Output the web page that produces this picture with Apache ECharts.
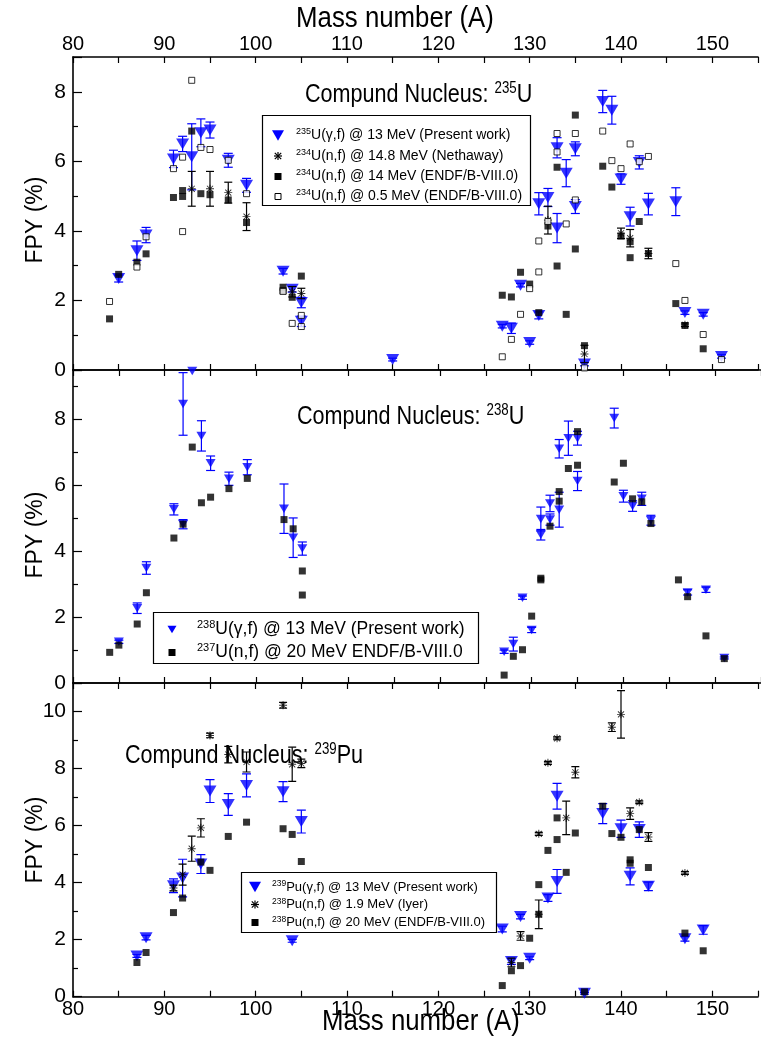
<!DOCTYPE html>
<html><head><meta charset="utf-8">
<script src="https://cdn.jsdelivr.net/npm/echarts@6/dist/echarts.min.js"></script>
<style>html,body{margin:0;padding:0;background:#fff}#c{width:761px;height:1041px}</style>
</head><body><div id="c"></div>
<script>
// ---------------- DATA ----------------
const xTickLabels = [80, 90, 100, 110, 120, 130, 140, 150];
const yMaxTop = 9, yMaxMid = 9.5, yMaxBot = 11;

// Panel 1: Compound nucleus 235U  [A, FPY, err]
const u235Gamma = [[85,2.63,0.10],[87,3.43,0.28],[88,3.88,0.22],[91,6.07,0.25],[92,6.50,0.22],[93,6.13,0.95],[94,6.82,0.40],[95,6.90,0.23],[97,6.03,0.20],[99,5.31,0.20],[103,2.84,0.08],[104,2.32,0.08],[105,1.94,0.15],[105,1.40,0.15],[115,0.30,0.04],[127,1.26,0.05],[128,1.20,0.15],[129,2.44,0.05],[130,0.79,0.05],[131,4.78,0.32],[131,1.57,0.10],[132,4.96,0.26],[133,6.39,0.29],[133,4.08,0.42],[134,5.66,0.39],[135,6.36,0.20],[135,4.70,0.20],[136,0.17,0.05],[138,7.72,0.32],[139,7.47,0.40],[140,5.49,0.15],[141,4.41,0.27],[142,5.97,0.19],[143,4.77,0.31],[146,4.84,0.40],[147,1.65,0.05],[149,1.60,0.05],[151,0.39,0.05]];
const u234Nethaway = [[93,5.21,0.50],[95,5.21,0.50],[97,5.10,0.30],[99,4.41,0.40],[104,2.25,0.15],[105,2.20,0.15],[132,4.31,0.40],[136,0.46,0.25],[140,3.93,0.15],[141,3.79,0.25],[143,3.35,0.15],[147,1.30,0.05]];
const u234N14 = [[84,1.47],[85,2.75],[87,3.10],[88,3.34],[91,4.96],[92,5.16],[92,4.99],[93,6.87],[94,5.07],[95,5.04],[97,4.89],[99,4.24],[103,2.38],[103,2.28],[104,2.09],[105,2.70],[127,2.15],[128,2.10],[129,2.81],[130,2.47],[131,1.65],[132,4.14],[133,5.83],[133,2.99],[134,1.60],[135,7.33],[135,3.48],[136,0.70],[138,5.86],[139,5.26],[140,3.85],[141,3.69],[141,3.23],[142,4.27],[143,3.35],[146,1.91],[147,1.28],[149,0.61]];
const u234N05 = [[84,1.97],[87,2.96],[88,3.83],[91,5.79],[92,6.12],[92,3.98],[93,8.33],[94,6.40],[95,6.34],[97,6.03],[99,5.07],[103,2.26],[104,1.34],[105,1.57],[105,1.25],[127,0.38],[128,0.88],[129,1.60],[130,2.34],[131,3.71],[131,2.82],[132,4.27],[133,6.80],[133,6.27],[134,4.20],[135,6.80],[135,4.89],[136,0.06],[138,6.87],[139,6.02],[140,5.79],[141,6.50],[142,5.99],[143,6.14],[146,3.06],[147,2.00],[149,1.02],[151,0.30]];

// Panel 2: Compound nucleus 238U
const u238Gamma = [[85,1.25,0.05],[87,2.27,0.16],[88,3.49,0.19],[91,5.27,0.17],[92,8.47,0.95],[92,4.82,0.14],[93,9.47,0.0],[94,7.50,0.46],[95,6.67,0.22],[97,6.20,0.20],[99,6.55,0.23],[103,5.29,0.75],[104,4.41,0.60],[105,4.08,0.20],[127,0.95,0.05],[128,1.18,0.21],[129,2.59,0.05],[130,1.61,0.08],[131,4.98,0.36],[131,4.50,0.16],[132,5.45,0.25],[132,4.96,0.17],[133,7.11,0.28],[133,5.26,0.53],[134,7.43,0.52],[135,7.43,0.21],[135,6.13,0.29],[139,8.04,0.30],[140,5.67,0.18],[141,5.37,0.16],[142,5.59,0.20],[143,4.94,0.15],[147,2.75,0.08],[149,2.83,0.08],[151,0.76,0.03]];
const u237N20 = [[84,0.93],[85,1.15],[87,1.79],[88,2.74],[91,4.40],[92,4.82],[93,7.16],[94,5.47],[95,5.64],[97,5.90],[99,6.21],[103,4.96],[104,4.68],[105,3.40],[105,2.67],[127,0.24],[128,0.81],[129,1.01],[130,2.03],[131,3.18],[131,3.13],[132,4.76],[133,5.81],[133,5.52],[134,6.51],[135,7.63],[135,6.61],[139,6.10],[140,6.67],[141,5.59],[142,5.50],[143,4.84],[146,3.13],[147,2.62],[149,1.43],[151,0.74]];

// Panel 3: Compound nucleus 239Pu
const pu239Gamma = [[87,1.43,0.05],[88,2.07,0.08],[91,3.89,0.24],[92,4.16,0.66],[94,4.65,0.33],[95,7.21,0.40],[97,6.74,0.38],[99,7.41,0.40],[103,7.19,0.35],[104,1.96,0.05],[105,6.14,0.40],[127,2.37,0.10],[128,1.23,0.10],[129,2.81,0.08],[130,1.35,0.05],[132,3.46,0.12],[133,7.03,0.45],[133,4.04,0.42],[136,0.12,0.03],[138,6.42,0.35],[140,5.89,0.30],[141,4.22,0.30],[142,5.86,0.27],[143,3.87,0.15],[147,2.03,0.08],[149,2.34,0.15]];
const pu238Iyer = [[91,3.81,0.10],[92,4.28,0.37],[93,5.19,0.44],[94,5.92,0.32],[95,9.16,0.08],[97,8.49,0.29],[99,8.23,0.35],[103,10.22,0.10],[104,8.15,0.60],[105,8.18,0.15],[128,1.20,0.15],[129,2.13,0.15],[131,5.71,0.05],[131,2.89,0.50],[132,8.20,0.05],[133,9.06,0.05],[134,6.27,0.59],[135,7.87,0.20],[139,9.45,0.15],[140,9.90,0.83],[141,6.42,0.20],[142,6.82,0.05],[143,5.60,0.15],[147,4.34,0.05]];
const pu238N20 = [[87,1.20],[88,1.55],[91,2.95],[92,3.46],[94,4.72],[95,4.43],[97,5.62],[99,6.12],[103,5.89],[104,5.69],[105,4.74],[127,0.39],[128,0.91],[129,1.09],[130,2.05],[131,3.93],[131,2.89],[132,5.13],[133,6.27],[133,5.51],[134,4.36],[135,5.74],[136,0.17],[138,6.68],[139,5.72],[140,5.59],[141,4.80],[141,4.68],[142,5.86],[143,4.53],[147,2.23],[149,1.61]];

// legend / series names
const legendTop = ['235U(γ,f) @ 13 MeV (Present work)', '234U(n,f) @ 14.8 MeV (Nethaway)', '234U(n,f) @ 14 MeV (ENDF/B-VIII.0)', '234U(n,f) @ 0.5 MeV (ENDF/B-VIII.0)'];
const legendMid = ['238U(γ,f) @ 13 MeV (Present work)', '237U(n,f) @ 20 MeV ENDF/B-VIII.0'];
const legendBot = ['239Pu(γ,f) @ 13 MeV (Present work)', '238Pu(n,f) @ 1.9 MeV (Iyer)', '238Pu(n,f) @ 20 MeV (ENDF/B-VIII.0)'];
const panelTitles = [['Compund Nucleus: ', '235', 'U'], ['Compund Nucleus: ', '238', 'U'], ['Compund Nucleus: ', '239', 'Pu']];
const xTitle = 'Mass number (A)';
const yTitle = 'FPY (%)';

// ---------------- STYLE ----------------
const REG = "'Liberation Sans',Arial,sans-serif";
const BLUE = '#0000ff';
const TRI = 'path://M0,0L10,0L5,8.66Z';
const STAR = 'path://M4.4,0L5.6,0L5.6,10L4.4,10ZM0,4.4L10,4.4L10,5.6L0,5.6ZM0.8,1.6L1.6,0.8L9.2,8.4L8.4,9.2ZM8.4,0.8L9.2,1.6L1.6,9.2L0.8,8.4Z';

const GL = 73, GW = 697;
const grids = [
  {left: GL, width: GW, top: 57, height: 313},
  {left: GL, width: GW, top: 370, height: 313},
  {left: GL, width: GW, top: 683, height: 313.7}
];
const yMax = [yMaxTop, yMaxMid, yMaxBot];

const xAxes = [], yAxes = [];
grids.forEach((g, i) => {
  ['bottom', 'top'].forEach(pos => {
    const showLab = (pos === 'bottom' && i === 2) || (pos === 'top' && i === 0);
    xAxes.push({
      gridIndex: i, type: 'value', position: pos, min: 80, max: 155, interval: 5,
      axisLine: {show: true, onZero: false, lineStyle: {color: '#000', width: 1.6}},
      axisTick: {show: true, inside: true, length: 6, lineStyle: {color: '#000', width: 1.2}},
      axisLabel: {show: showLab, color: '#000', fontFamily: REG, fontSize: 20, margin: 3,
        formatter: v => xTickLabels.includes(v) ? String(v) : ''},
      splitLine: {show: false}
    });
  });
  yAxes.push({
    gridIndex: i, type: 'value', min: 0, max: yMax[i], interval: 2,
    axisLine: {show: true, onZero: false, lineStyle: {color: '#000', width: 1.6}},
    axisTick: {show: true, inside: true, length: 9, lineStyle: {color: '#000', width: 1.2}},
    minorTick: {show: true, splitNumber: 2, length: 5, lineStyle: {color: '#000', width: 1.2}},
    axisLabel: {color: '#000', fontFamily: REG, fontSize: 21, margin: 7,
      formatter: v => (Math.abs(v % 2) < 1e-9) ? String(v) : ''},
    splitLine: {show: false}
  });
});

function pts(d) { return d.map(r => [r[0], r[1]]); }
function errBars(d, g, color, capHalf, z) {
  return {
    type: 'custom', xAxisIndex: g * 2, yAxisIndex: g, clip: true, z: z, silent: true,
    data: d.filter(r => r[2] > 0), encode: {x: 0, y: 1},
    renderItem: (params, api) => {
      const x = api.value(0), y = api.value(1), e = api.value(2);
      const a = api.coord([x, y + e]), b = api.coord([x, y - e]);
      const st = {stroke: color, lineWidth: 1.2};
      return {type: 'group', children: [
        {type: 'line', shape: {x1: a[0], y1: a[1], x2: b[0], y2: b[1]}, style: st},
        {type: 'line', shape: {x1: a[0] - capHalf, y1: a[1], x2: a[0] + capHalf, y2: a[1]}, style: st},
        {type: 'line', shape: {x1: b[0] - capHalf, y1: b[1], x2: b[0] + capHalf, y2: b[1]}, style: st}
      ]};
    }
  };
}
function scat(name, d, g, symbol, size, style, z) {
  return {type: 'scatter', name: name, xAxisIndex: g * 2, yAxisIndex: g, data: pts(d),
    symbol: symbol, symbolSize: size, itemStyle: style, z: z, silent: true};
}
const sFilled = {color: '#000'};
const sOpen = {color: '#fff', borderColor: '#000', borderWidth: 1};
const sBlue = {color: BLUE};
const sStar = {color: '#000'};

const series = [
  errBars(u235Gamma, 0, BLUE, 4.5, 2),
  scat(legendTop[0], u235Gamma, 0, TRI, [13, 11], sBlue, 3),
  errBars(u234Nethaway, 0, '#000', 4, 4),
  scat(legendTop[1], u234Nethaway, 0, STAR, 8, sStar, 5),
  scat(legendTop[2], u234N14, 0, 'rect', 7, sFilled, 6),
  scat(legendTop[3], u234N05, 0, 'rect', 6, sOpen, 7),
  errBars(u238Gamma, 1, BLUE, 4.5, 2),
  scat(legendMid[0], u238Gamma, 1, TRI, [10, 8.5], sBlue, 3),
  scat(legendMid[1], u237N20, 1, 'rect', 7, sFilled, 6),
  errBars(pu239Gamma, 2, BLUE, 4.5, 2),
  scat(legendBot[0], pu239Gamma, 2, TRI, [13, 11], sBlue, 3),
  errBars(pu238Iyer, 2, '#000', 4, 4),
  scat(legendBot[1], pu238Iyer, 2, STAR, 8, sStar, 5),
  scat(legendBot[2], pu238N20, 2, 'rect', 7, sFilled, 6)
];

// --------- legends / titles drawn as graphic ----------
function richName(name) { return name.replace(/^(\d+)(.*)$/, '{s|$1}{t|$2}'); }
function icon(kind, cx, cy, sz) {
  if (kind === 'tri') return [{type: 'polygon', z: 101, shape: {points: [[cx - sz / 2, cy - sz * 0.43], [cx + sz / 2, cy - sz * 0.43], [cx, cy + sz * 0.43]]}, style: {fill: BLUE}}];
  if (kind === 'star') {
    const h = sz / 2, d = h * 0.8, st = {stroke: '#000', lineWidth: 1.2};
    return [
      {type: 'line', z: 101, shape: {x1: cx, y1: cy - h, x2: cx, y2: cy + h}, style: st},
      {type: 'line', z: 101, shape: {x1: cx - h, y1: cy, x2: cx + h, y2: cy}, style: st},
      {type: 'line', z: 101, shape: {x1: cx - d, y1: cy - d, x2: cx + d, y2: cy + d}, style: st},
      {type: 'line', z: 101, shape: {x1: cx + d, y1: cy - d, x2: cx - d, y2: cy + d}, style: st}
    ];
  }
  if (kind === 'fill') return [{type: 'rect', z: 101, shape: {x: cx - sz / 2, y: cy - sz / 2, width: sz, height: sz}, style: {fill: '#000'}}];
  return [{type: 'rect', z: 101, shape: {x: cx - sz / 2 + 0.5, y: cy - sz / 2 + 0.5, width: sz - 1, height: sz - 1}, style: {fill: '#fff', stroke: '#000', lineWidth: 1}}];
}
function legendBox(box, rows, iconX, textX, fs, sfs, kinds, sizes) {
  let els = [{type: 'rect', shape: {x: box[0] + 0.5, y: box[1] + 0.5, width: box[2], height: box[3]}, style: {fill: '#fff', stroke: '#000', lineWidth: 1.2}, z: 100}];
  rows.forEach((r, i) => {
    els = els.concat(icon(kinds[i], iconX, r[1], sizes[i]));
    els.push({type: 'text', x: textX, y: r[1], z: 101, style: {
      text: richName(r[0]), verticalAlign: 'middle', align: 'left',
      rich: {
        t: {fontFamily: REG, fontSize: fs, fill: '#000', lineHeight: fs + 2},
        s: {fontFamily: REG, fontSize: sfs, fill: '#000', lineHeight: sfs, verticalAlign: 'top'}
      }}});
  });
  return els;
}
function titleText(parts, x, y) {
  return {type: 'text', x: x, y: y, z: 100, scaleX: 0.83, style: {
    text: '{t|' + parts[0] + '}{s|' + parts[1] + '}{t|' + parts[2] + '}', verticalAlign: 'middle',
    rich: {
      t: {fontFamily: REG, fontSize: 26, fill: '#000', lineHeight: 28},
      s: {fontFamily: REG, fontSize: 16, fill: '#000', lineHeight: 14, verticalAlign: 'top'}
    }}};
}
function yName(y) {
  return {type: 'text', x: 36, y: y, rotation: Math.PI / 2, z: 100,
    style: {text: yTitle, align: 'center', verticalAlign: 'middle', fontFamily: REG, fontSize: 23, fill: '#000'}};
}

const graphic = [].concat(
  legendBox([262, 115, 268, 90], [[legendTop[0], 135.5], [legendTop[1], 156], [legendTop[2], 176.5], [legendTop[3], 196.5]], 278, 296, 14, 9, ['tri', 'star', 'fill', 'open'], [12, 8, 7, 7]),
  legendBox([153, 612, 325, 51], [[legendMid[0], 629.5], [legendMid[1], 652.5]], 172, 197, 17.5, 11, ['tri', 'fill'], [9, 7]),
  legendBox([241, 872, 255, 60], [[legendBot[0], 887], [legendBot[1], 904.5], [legendBot[2], 922.5]], 255, 272, 13, 8.5, ['tri', 'star', 'fill'], [12, 8, 7]),
  [
    titleText(panelTitles[0], 305, 95),
    titleText(panelTitles[1], 297, 417),
    titleText(panelTitles[2], 125, 756),
    yName(220), yName(535), yName(840),
    {type: 'text', x: 395, y: 19, z: 100, scaleX: 0.86, style: {text: xTitle, align: 'center', verticalAlign: 'middle', fontFamily: REG, fontSize: 30, fill: '#000'}},
    {type: 'text', x: 421, y: 1022, z: 100, scaleX: 0.86, style: {text: xTitle, align: 'center', verticalAlign: 'middle', fontFamily: REG, fontSize: 30, fill: '#000'}}
  ]
);

const chart = echarts.init(document.getElementById('c'), null, {renderer: 'canvas'});
chart.setOption({
  animation: false,
  backgroundColor: '#fff',
  grid: grids,
  xAxis: xAxes,
  yAxis: yAxes,
  series: series,
  graphic: graphic
});
</script>
</body></html>
